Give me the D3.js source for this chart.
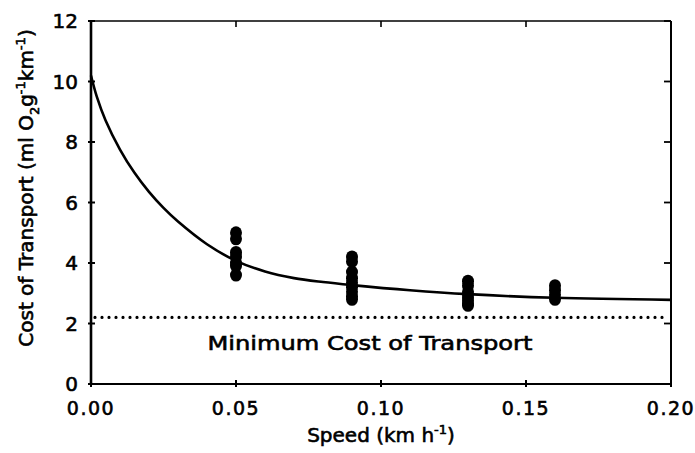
<!DOCTYPE html>
<html>
<head>
<meta charset="utf-8">
<script src="https://cdn.jsdelivr.net/npm/d3@7"></script>
<style>
  body { margin: 0; background: #fff; }
  svg text { font-family: "DejaVu Sans", sans-serif; fill: #000; stroke: #000; stroke-width: 0.6px; }
</style>
</head>
<body>
<svg id="chart" width="695" height="453"></svg>
<script>
// measured cost of transport at each speed
const speeds = [0.05, 0.09, 0.13, 0.16];
const costs = [
    [5.0, 4.8, 4.35, 4.2, 4.0, 3.9, 3.6],
    [4.2, 4.05, 3.7, 3.5, 3.35, 3.2, 3.05, 2.9, 2.8],
    [3.4, 3.25, 3.05, 2.95, 2.85, 2.75, 2.65, 2.6],
    [3.25, 3.1, 2.95, 2.8]
];

// fitted curve
const curveX = [0, 0.002, 0.005, 0.01, 0.015, 0.02, 0.025, 0.03, 0.04, 0.05, 0.06, 0.07, 0.08, 0.09, 0.11, 0.13, 0.16, 0.2];
const curveY = [10.2, 9.5, 8.72, 7.75, 6.98, 6.35, 5.82, 5.37, 4.62, 4.07, 3.72, 3.5, 3.37, 3.27, 3.1, 2.97, 2.85, 2.78];

const minCost = 2.2;
const xTicks = [0, 0.05, 0.10, 0.15, 0.20];
const yTicks = [0, 2, 4, 6, 8, 10, 12];

const svg = d3.select("#chart");
const margin = { top: 21, right: 24, bottom: 69, left: 91 };
const W = 695, H = 453;

const x = d3.scaleLinear().domain([0, 0.2]).range([margin.left, W - margin.right]);
const y = d3.scaleLinear().domain([0, 12]).range([H - margin.bottom, margin.top]);

// frame
const frame = svg.append("g");
frame.append("line").attr("x1", x(0)).attr("x2", x(0.2)).attr("y1", y(0)).attr("y2", y(0))
    .attr("stroke", "#000").attr("stroke-width", 2.2);
frame.append("line").attr("x1", x(0)).attr("x2", x(0)).attr("y1", y(0)).attr("y2", y(12))
    .attr("stroke", "#000").attr("stroke-width", 2.6);
frame.append("line").attr("x1", x(0)).attr("x2", x(0.2)).attr("y1", y(12)).attr("y2", y(12))
    .attr("stroke", "#000").attr("stroke-width", 1.6);
frame.append("line").attr("x1", x(0.2)).attr("x2", x(0.2)).attr("y1", y(0)).attr("y2", y(12))
    .attr("stroke", "#000").attr("stroke-width", 2);

// ticks
frame.selectAll(".xt").data(xTicks).enter().append("line")
    .attr("x1", d => x(d)).attr("x2", d => x(d))
    .attr("y1", y(0) - 4).attr("y2", y(0) + 3)
    .attr("stroke", "#000").attr("stroke-width", 2);
frame.selectAll(".xtt").data(xTicks).enter().append("line")
    .attr("x1", d => x(d)).attr("x2", d => x(d))
    .attr("y1", y(12)).attr("y2", y(12) + 6)
    .attr("stroke", "#000").attr("stroke-width", 1.6);
frame.selectAll(".yt").data(yTicks).enter().append("line")
    .attr("x1", x(0) - 3).attr("x2", x(0) + 4)
    .attr("y1", d => y(d)).attr("y2", d => y(d))
    .attr("stroke", "#000").attr("stroke-width", 2);
frame.selectAll(".ytr").data(yTicks).enter().append("line")
    .attr("x1", x(0.2) - 7).attr("x2", x(0.2))
    .attr("y1", d => y(d)).attr("y2", d => y(d))
    .attr("stroke", "#000").attr("stroke-width", 1.8);

// tick labels
svg.append("g").selectAll("text").data(xTicks).enter().append("text")
    .attr("x", d => x(d)).attr("y", 415)
    .attr("text-anchor", "middle").attr("font-size", 19)
    .attr("letter-spacing", 1.5)
    .text(d => d.toFixed(2));
svg.append("g").selectAll("text").data(yTicks).enter().append("text")
    .attr("x", 78).attr("y", d => y(d)).attr("dy", "0.36em")
    .attr("text-anchor", "end").attr("font-size", 20)
    .text(d => d);

// minimum cost line
svg.append("line")
    .attr("x1", x(0) + 4).attr("x2", x(0.2) - 2)
    .attr("y1", y(minCost)).attr("y2", y(minCost))
    .attr("stroke", "#000").attr("stroke-width", 3.2)
    .attr("stroke-linecap", "round").attr("stroke-dasharray", "0 7");

svg.append("text").attr("x", 370).attr("y", 350)
    .attr("text-anchor", "middle").attr("font-size", 20)
    .attr("textLength", 325).attr("lengthAdjust", "spacingAndGlyphs")
    .text("Minimum Cost of Transport");

// fitted curve
const curvePts = curveX.map((d, i) => [d, curveY[i]]);
svg.append("path")
    .datum(curvePts)
    .attr("d", d3.line().x(d => x(d[0])).y(d => y(d[1])).curve(d3.curveCatmullRom.alpha(0.5)))
    .attr("fill", "none").attr("stroke", "#000").attr("stroke-width", 2.6);

// data points
const pts = [];
speeds.forEach((s, i) => costs[i].forEach(c => pts.push({ s: s, c: c })));
svg.append("g").selectAll("ellipse").data(pts).enter().append("ellipse")
    .attr("cx", d => x(d.s)).attr("cy", d => y(d.c))
    .attr("rx", 6).attr("ry", 6.5)
    .attr("fill", "#000");

// axis titles
const xt = svg.append("text").attr("x", 381).attr("y", 442)
    .attr("text-anchor", "middle").attr("font-size", 20);
xt.append("tspan").text("Speed (km h");
xt.append("tspan").attr("dy", -8).attr("font-size", 13).text("-1");
xt.append("tspan").attr("dy", 8).text(")");

const yt = svg.append("text")
    .attr("transform", "translate(33,188) rotate(-90)")
    .attr("text-anchor", "middle").attr("font-size", 20);
yt.append("tspan").text("Cost of Transport (ml O");
yt.append("tspan").attr("dy", 6).attr("font-size", 13).text("2");
yt.append("tspan").attr("dy", -6).text("g");
yt.append("tspan").attr("dy", -8).attr("font-size", 13).text("-1");
yt.append("tspan").attr("dy", 8).text("km");
yt.append("tspan").attr("dy", -8).attr("font-size", 13).text("-1");
yt.append("tspan").attr("dy", 8).text(")");
</script>
</body>
</html>
